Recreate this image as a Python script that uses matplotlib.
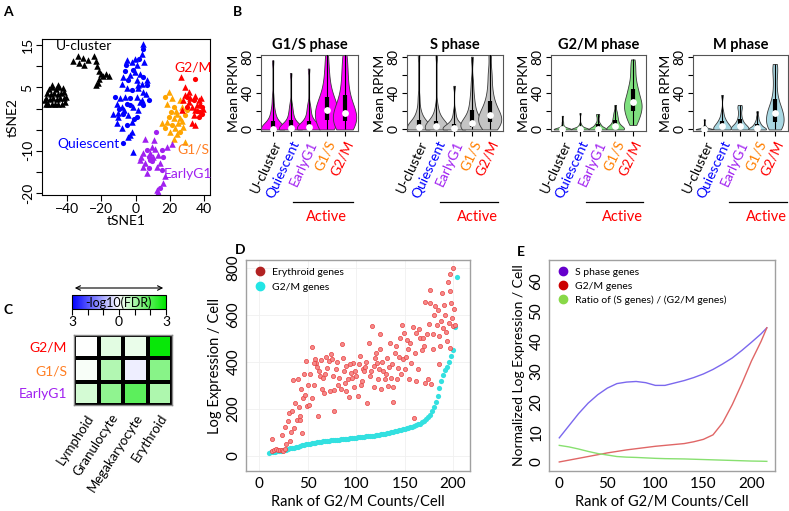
import matplotlib
matplotlib.use('Agg')
import matplotlib.pyplot as plt
import numpy as np
from matplotlib.colors import LinearSegmentedColormap, Normalize
from matplotlib.lines import Line2D
import matplotlib.colorbar as mcb
import matplotlib.transforms as mtrans

plt.rcParams['font.family'] = ['Lato', 'DejaVu Sans']

# ---------------- DATA ----------------
# Panel A: tSNE clusters
ucl_x = [-52.5, -51, -49, -47, -45, -43, -41, -52, -50, -48, -46, -44, -42, -40.5, -51.5, -49.5, -47.5,
         -45.5, -43.5, -41.5, -50.5, -48.5, -46.5, -44.5, -42.5, -49, -45, -53,
         -36.3, -33.8, -32.8, -30.9, -29.9, -28, -24, -23.1, -22.7, -21.1, -20.2, -22.1, -19.2, -17.2, -15.7, -21.1, -23.1]
ucl_y = [1.2, 1.0, 1.0, 1.2, 1.0, 1.2, 1.5, 2.5, 2.2, 2.5, 2.3, 2.5, 2.6, 2.8, 3.6, 3.4, 3.8,
         3.5, 3.7, 3.9, 4.7, 5.2, 4.6, 5.0, 4.8, 5.6, 5.5, 2.0,
         11.2, 12.4, 10.8, 12.0, 10.4, 11.6, 12.4, 11.2, 10.0, 8.8, 8.1, 6.1, 7.7, 8.1, 7.7, 6.9, 5.7]
qui_x = [4.2, 4.2, 3.7, -0.2, 2.3, -2.2, -5.1, -5.5, 0.7, 5.0, -1.6, -0.2, 2.7, 4.6, 6.6, -7.1, -4.1, 0.7,
         3.7, 6.6, -8.0, -5.1, -2.2, 1.7, 4.6, -11.9, -9.0, -6.1, -3.2, 0.7, 3.7, 7.6, -11.0, -8.0, -5.1,
         -1.2, 1.7, 4.6, -12.9, -10.0, -7.1, -4.1, -2.2, 0.7, -11.0, -8.0, -5.1, -2.2, -4.1, -7.4, -1.2, -3.5,
         -6.1, -3.0, 1.5, -9.5, -6.5, 2.5, -3.0, -10.5, 6.0, -1.0]
qui_y = [15.4, 14.2, 13.0, 11.8, 11.8, 11.1, 11.5, 10.3, 10.3, 11.1, 9.1, 8.7, 8.3, 7.5, 6.7, 7.5, 6.7, 6.7,
         5.9, 5.5, 5.9, 4.8, 4.4, 4.8, 4.0, 2.8, 2.4, 2.8, 2.4, 2.8, 2.0, 2.0, 1.2, 0.4, 1.2,
         0.4, -0.4, 0.8, -1.2, -1.9, -1.2, -1.5, -3.1, -1.9, -3.5, -4.7, -3.9, -5.5, -6.7, -8.1, -10.2, -6.3,
         9.0, 8.0, 5.5, 0.0, -0.3, 1.5, 0.8, -1.0, 3.5, -2.5]
g1s_x = [19.3, 17.3, 21.2, 18.3, 22.2, 26.1, 24.1, 19.3, 22.2, 26.1, 29.0, 15.4, 18.3, 21.2, 25.1, 28.0,
         17.3, 20.2, 23.2, 26.1, 29.0, 22.2, 30.0, 27.1, 23.5, 20.5, 24.5, 27.0]
g1s_y = [4.0, 2.8, 2.4, 1.2, 0.4, 2.0, -1.2, -1.9, -2.3, -2.3, -1.5, -3.5, -3.1, -3.9, -3.5, -4.3,
         -4.7, -5.5, -4.7, -5.5, -7.9, -7.1, -0.4, 0.4, -0.5, -0.8, -6.0, -3.0]
g2m_x = [26.7, 34.5, 29.0, 31.0, 30.0, 31.9, 28.0, 33.9, 36.8, 37.8, 38.8, 35.8, 32.9, 30.0, 27.1, 34.9,
         37.8, 39.7, 33.9, 36.8, 32.9, 34.9, 38.8, 31.0, 29.0, 36.0, 38.0, 35.0]
g2m_y = [7.5, 7.1, 5.1, 4.0, 2.8, 2.4, 2.0, 2.0, 2.0, 1.2, 0.4, 0.8, 0.4, 0.4, -0.4, -0.4,
         -0.8, 0.0, -1.5, -1.9, -3.5, -3.9, -1.2, 1.6, 3.2, -0.5, 2.5, 3.0]
eg1_x = [5.6, 12.0, 10.9, 9.5, 6.6, 8.5, 4.6, 7.6, 2.7, 5.6, 8.5, 10.5, 13.4, 15.4, 18.3, 21.2, 16.3,
         14.4, 12.4, 7.6, 4.6, 6.6, 15.4, 17.3, 16.3, 14.4, 13.4, 12.4, 9.5, 11.5, 3.5]
eg1_y = [-7.1, -5.5, -7.5, -9.0, -9.8, -10.6, -10.6, -11.4, -12.2, -13.0, -12.2, -11.4, -11.0, -9.8, -9.0,
         -8.4, -11.4, -13.0, -13.8, -14.2, -13.8, -15.3, -14.6, -16.1, -17.7, -18.9, -19.7, -19.3, -12.5, -9.5, -11.5]

# Panel B: violin samples (Mean RPKM)
groups = ['U-cluster', 'Quiescent', 'EarlyG1', 'G1/S', 'G2/M']
group_colors = ['black', '#0000FF', '#A020F0', '#FF7F00', '#FF0000']
phase_titles = ['G1/S phase', 'S phase', 'G2/M phase', 'M phase']
g1s_phase = [
    [0]*12 + [1, 2, 3, 5, 7, 9, 12, 15, 19, 24, 35, 76],
    [0]*10 + [1, 2, 3, 4, 5, 7, 9, 11, 14, 18, 22, 28, 62],
    [0]*9 + [1, 2, 3, 4, 5, 6, 8, 10, 13, 17, 22, 27, 67],
    [0, 1, 2, 4, 6, 8, 10, 12, 14, 16, 18, 19, 20, 22, 24, 26, 28, 30, 33, 36, 40, 45, 52, 60, 70, 83],
    [0, 1, 2, 3, 5, 7, 9, 11, 13, 15, 16, 17, 18, 20, 23, 26, 29, 33, 38, 44, 50, 58, 66, 75, 83],
]
s_phase = [
    [0]*8 + [1, 2, 3, 4, 5, 6, 8, 10, 13, 17, 22, 35, 82],
    [0]*7 + [1, 2, 3, 4, 5, 6, 7, 9, 11, 14, 18, 26, 82],
    [0]*9 + [1, 2, 3, 4, 5, 6, 8, 10, 14, 20, 48],
    [0, 0, 1, 1, 2, 3, 4, 5, 5, 6, 7, 9, 11, 14, 17, 21, 26, 32, 40, 52, 80],
    [0, 1, 2, 4, 6, 8, 10, 12, 13, 14, 15, 17, 19, 22, 25, 28, 32, 38, 45, 55, 65, 83],
]
g2m_phase = [
    [0]*10 + [0.5, 1, 1.5, 2, 3, 5, 8, 15],
    [0]*10 + [0.5, 1, 1, 2, 3, 4, 6, 18],
    [0]*8 + [0.5, 1, 2, 3, 4, 5, 6, 8, 12, 16, 17],
    [0]*6 + [0.5, 1, 2, 3, 4, 5, 6, 8, 10, 12, 14, 17, 20, 27],
    [5, 9, 12, 14, 17, 19, 21, 23, 25, 27, 28, 30, 32, 34, 37, 40, 43, 46, 50, 56, 63, 70, 77],
]
m_phase = [
    [0]*10 + [0.5, 1, 2, 3, 4, 11],
    [0]*6 + [1, 2, 3, 4, 5, 6, 7, 8, 10, 12, 15, 20, 38],
    [0]*6 + [1, 2, 3, 4, 5, 6, 8, 10, 13, 17, 22, 25, 27],
    [0]*7 + [1, 2, 3, 4, 5, 6, 8, 10, 14, 20],
    [0, 1, 2, 4, 6, 8, 10, 12, 14, 16, 18, 20, 22, 25, 28, 33, 40, 50, 60, 68, 72],
]
violin_colors = ['#FF00FF', '#C4C4C4', '#7FE07F', '#A9D8E3']

# Panel C: heatmap of signed -log10(FDR)
heat_rows = ['G2/M', 'G1/S', 'EarlyG1']
heat_row_colors = ['#FF0000', '#FF7F24', '#A020F0']
heat_cols = ['Lymphoid', 'Granulocyte', 'Megakaryocyte', 'Erythroid']
heat_vals = [[0.0, 0.35, 0.25, 2.9],
             [0.08, 0.9, -0.2, 1.4],
             [0.5, 1.3, 1.9, 0.95]]

# Panel D: scatter vs rank
cyan_rank = list(range(10, 206, 2))
cyan_vals = [14, 15, 16, 17, 19, 20, 22, 24, 25, 27, 30, 32, 34, 36, 38, 40, 42, 45, 47, 49,
             51, 53, 55, 56, 57, 58, 59, 61, 62, 63, 64, 65, 66, 67, 68, 69, 70, 71, 72, 73,
             74, 74, 75, 76, 77, 78, 79, 80, 81, 82, 83, 84, 85, 86, 87, 88, 89, 91, 92, 93,
             95, 97, 99, 101, 103, 105, 107, 109, 111, 113, 115, 117, 120, 122, 125, 128, 131, 134, 138, 143,
             150, 158, 165, 175, 190, 208, 228, 255, 290, 320, 345, 365, 378, 400, 425, 450, 550, 760]
red_rank = [13, 13, 15, 17, 19, 21, 23, 25, 27, 23, 27, 28, 30, 32, 31, 34, 35, 37, 39, 40, 42, 42, 43, 44,
            45, 46, 47, 48, 49, 51, 52, 54, 54, 58, 59, 60, 61, 63, 64, 65, 66, 67, 70, 72, 73, 74, 75, 77,
            77, 79, 80, 84, 85, 86, 87, 89, 90, 92, 93, 95, 97, 98, 99, 102, 104, 106, 107, 109, 111, 113,
            114, 116, 118, 118, 120, 121, 123, 125, 125, 126, 128, 130, 132, 133, 135, 137, 138, 138, 140,
            142, 143, 145, 147, 148, 149, 150, 152, 154, 155, 157, 159, 160, 162, 162, 164, 166, 168, 169,
            171, 173, 174, 176, 177, 179, 179, 181, 183, 185, 186, 187, 188, 190, 191, 193, 194, 195, 196,
            197, 199, 200, 201, 202, 176, 189, 197, 171, 197, 200,
            56, 62, 68, 76, 82, 88, 94, 100, 105, 110, 115, 119, 124, 131, 136, 141, 146, 151, 156, 161,
            165, 170, 175, 180, 184, 192, 198, 41, 36, 33, 50, 57, 69, 81, 96, 103, 108, 127, 134, 144]
red_vals = [74, 22, 26, 28, 24, 27, 25, 22, 30, 90, 125, 50, 150, 64, 184, 190, 323, 227, 153, 329, 154, 170,
            286, 99, 248, 347, 261, 406, 211, 218, 350, 247, 464, 414, 397, 380, 170, 340, 408, 284, 333, 267,
            373, 403, 277, 432, 411, 191, 279, 369, 400, 286, 478, 419, 362, 381, 277, 327, 253, 355, 394, 295,
            362, 256, 426, 319, 369, 379, 226, 482, 340, 553, 383, 294, 440, 397, 326, 454, 518, 284, 362, 326,
            418, 299, 482, 393, 229, 294, 440, 329, 376, 500, 556, 411, 525, 369, 492, 454, 326, 394, 550, 163,
            525, 319, 369, 503, 451, 500, 309, 518, 326, 650, 305, 454, 521, 638, 556, 390, 510, 468, 574, 543,
            641, 528, 489, 742, 568, 461, 589, 553, 627, 556, 705, 695, 702, 655, 773, 800,
            395, 360, 350, 340, 330, 310, 390, 340, 300, 400, 360, 415, 372, 350, 330, 470, 350, 420, 480, 440,
            540, 470, 560, 600, 620, 600, 650, 210, 120, 100, 300, 300, 420, 300, 330, 390, 360, 400, 380, 420]

# Panel E: smoothed curves vs rank
e_rank = [0, 10, 20, 30, 40, 50, 60, 70, 80, 90, 100, 110, 120, 130, 140, 150, 160, 170, 180, 190, 200, 210, 216]
e_s_genes = [8, 12, 16, 19.5, 22.3, 24.5, 26, 26.5, 26.7, 26.3, 25.4, 25.4, 26.2, 27, 28, 29.2, 30.7, 32.5,
             34.5, 37, 39.7, 42.5, 44.5]
e_g2m_genes = [0, 0.6, 1.2, 1.8, 2.4, 3.0, 3.5, 4.0, 4.4, 4.8, 5.2, 5.5, 5.8, 6.1, 6.7, 7.5, 9.0, 13, 19,
               26, 33.5, 40, 44.5]
e_ratio = [5.5, 5.0, 4.3, 3.5, 2.8, 2.3, 1.8, 1.6, 1.5, 1.35, 1.2, 1.1, 1.05, 1.0, 0.9, 0.8, 0.7, 0.6, 0.5,
           0.4, 0.3, 0.25, 0.2]

# ---------------- FIGURE ----------------
W, H = 789, 511
fig = plt.figure(figsize=(W / 100, H / 100), dpi=100)


def rect(l, t, r, b):
    return [l / W, 1 - b / H, (r - l) / W, (b - t) / H]


def fp(x, y):
    return (x / W, 1 - y / H)


for lab, (x, y) in zip('ABCDE', [(8, 12), (237, 12), (8, 310), (240, 250), (521, 252)]):
    fig.text(*fp(x, y), lab, fontsize=10, fontweight='bold', ha='center', va='center')

# ---- Panel A ----
axA = fig.add_axes(rect(42, 39, 210, 195))
clusters = [(ucl_x, ucl_y, 'black'), (qui_x, qui_y, '#0000FF'), (g1s_x, g1s_y, '#FFA500'),
            (g2m_x, g2m_y, '#FF0000'), (eg1_x, eg1_y, '#A020F0')]
for xs, ys, c in clusters:
    xs = np.array(xs); ys = np.array(ys)
    idx = np.arange(len(xs))
    tri = idx % 3 != 1 if c != 'black' else idx >= 0
    axA.scatter(xs[tri], ys[tri], marker='^', s=22, color=c, linewidths=0)
    axA.scatter(xs[~tri], ys[~tri], marker='o', s=14, color=c, linewidths=0)
axA.set_xlim(-54.6, 43.5)
axA.set_ylim(-20.5, 16.5)
axA.set_xticks([-40, -20, 0, 20, 40])
axA.set_yticks([-20, -15, -10, -5, 0, 5, 10, 15])
axA.set_yticklabels(['-20', '', '-10', '', '', '5', '', '15'])
axA.tick_params(labelsize=10, length=4, width=0.8, direction='out', pad=2)
for t in axA.get_yticklabels():
    t.set_rotation(90); t.set_va('center')
for s in axA.spines.values():
    s.set_linewidth(0.8)
axA.set_xlabel('tSNE1', fontsize=10, labelpad=0)
axA.set_ylabel('tSNE2', fontsize=10, labelpad=2)
for txt, x, y, c in [('U-cluster', -30.1, 14.8, 'black'), ('G2/M', 33.7, 9.8, '#FF0000'),
                     ('Quiescent', -27.7, -8.4, '#0000FF'), ('G1/S', 34.0, -9.8, '#FF7F24'),
                     ('EarlyG1', 30.8, -15.6, '#A020F0')]:
    axA.text(x, y, txt, color=c, fontsize=10, ha='center', va='center')

# ---- Panel B ----
b_rects = [(261, 55, 358, 131), (407, 55, 503, 131), (551, 55, 646, 131), (693, 55, 788, 131)]
active_pos = [(2.15, 5.45, 4.0), (2.2, 5.45, 4.3), (2.35, 5.6, 4.4), (2.4, 5.7, 4.5)]
b_widths = [1.3, 1.3, 1.0, 1.0]
for k, data in enumerate([g1s_phase, s_phase, g2m_phase, m_phase]):
    ax = fig.add_axes(rect(*b_rects[k]))
    for i, d in enumerate(data, start=1):
        bw = 0.5 if (k == 0 and i >= 4) else 0.35
        parts = ax.violinplot([d], positions=[i], widths=b_widths[k], showextrema=False, bw_method=bw)
        for b in parts['bodies']:
            b.set_facecolor(violin_colors[k]); b.set_edgecolor('#3a3a3a')
            b.set_linewidth(0.6); b.set_alpha(1)
        q1, med, q3 = np.percentile(d, [25, 50, 75])
        ax.vlines(i, min(d), max(d), color='black', lw=0.8, zorder=3)
        ax.vlines(i, q1, q3, color='black', lw=3, zorder=3)
        ax.scatter([i], [med], s=24, color='white', zorder=5, linewidths=0)
    ax.set_xlim(0.35, 5.75)
    ax.set_ylim(-1.7, 81.9)
    ax.set_yticks([0, 20, 40, 60, 80])
    ax.set_yticklabels(['0', '', '40', '', '80'])
    ax.set_xticks(range(1, 6))
    ax.set_xticklabels(groups, rotation=65, ha='right', rotation_mode='anchor', fontsize=10.5)
    for t, c in zip(ax.get_xticklabels(), group_colors):
        t.set_color(c)
    ax.tick_params(labelsize=10, length=3.5, width=0.8, pad=2)
    for t in ax.get_yticklabels():
        t.set_rotation(90); t.set_va('center')
    for s in ax.spines.values():
        s.set_linewidth(0.8); s.set_color('#555555')
    ax.set_ylabel('Mean RPKM', fontsize=10, labelpad=1)
    ax.set_title(phase_titles[k], fontsize=10.5, fontweight='bold', pad=4)
    trans = mtrans.blended_transform_factory(ax.transData, ax.transAxes)
    x0, x1, xa = active_pos[k]
    ax.plot([x0, x1], [-0.934, -0.934], color='black', lw=0.9, transform=trans, clip_on=False)
    ax.text(xa, -1.13, 'Active', color='#FF0000', fontsize=10.5, ha='center', va='center',
            transform=trans)

# ---- Panel C ----
cmap = LinearSegmentedColormap.from_list('bwg', ['#0000FF', '#FFFFFF', '#00E600'])
norm = Normalize(vmin=-3, vmax=3)
axC = fig.add_axes(rect(74, 335, 172, 405))
axC.pcolormesh(np.array(heat_vals), cmap=cmap, norm=norm, edgecolors='black', linewidth=1.5)
axC.set_xlim(0, 4); axC.set_ylim(3, 0)
axC.set_xticks(np.arange(4) + 0.5)
axC.set_xticklabels(heat_cols, rotation=57, ha='right', rotation_mode='anchor', fontsize=9.5)
axC.set_yticks(np.arange(3) + 0.5)
axC.set_yticklabels(heat_rows, fontsize=10)
for t, c in zip(axC.get_yticklabels(), heat_row_colors):
    t.set_color(c)
axC.tick_params(length=0, pad=5)
for s in axC.spines.values():
    s.set_color('#888888'); s.set_linewidth(1)

cax = fig.add_axes(rect(72, 295, 166, 309))
cb = mcb.ColorbarBase(cax, cmap=cmap, norm=norm, orientation='horizontal')
cb.set_ticks([-3, -2, -1, 0, 1, 2, 3])
cb.set_ticklabels(['3', '', '', '0', '', '', '3'])
cax.tick_params(labelsize=10, length=4, width=0.8, pad=1)
cb.outline.set_linewidth(0.8)
cax.text(0.5, 0.45, '-log10(FDR)', transform=cax.transAxes, ha='center', va='center', fontsize=9)
fig.add_artist(matplotlib.patches.FancyArrowPatch(fp(72, 288), fp(166, 288), arrowstyle='<->',
                                                  mutation_scale=8, lw=0.8, color='black',
                                                  transform=fig.transFigure))

# ---- Panel D ----
axD = fig.add_axes(rect(246, 260, 470, 471))
axD.grid(True, color='#F0F0F0', lw=0.6)
axD.set_axisbelow(True)
axD.scatter(cyan_rank, cyan_vals, s=14, color='#33E0E0', linewidths=0, zorder=2)
axD.scatter(red_rank, red_vals, s=9, facecolor='#F58A8A', edgecolor='#E84040', linewidths=0.5, zorder=3)
axD.set_xlim(-13.7, 217.5)
axD.set_ylim(-64, 834)
axD.set_xticks([0, 50, 100, 150, 200])
axD.set_yticks([0, 200, 400, 600, 800])
axD.tick_params(length=0, labelsize=11, pad=4)
for t in axD.get_yticklabels():
    t.set_rotation(90); t.set_va('center')
for s in axD.spines.values():
    s.set_color('#A0A0A0'); s.set_linewidth(1)
axD.set_xlabel('Rank of G2/M Counts/Cell', fontsize=10.5, labelpad=3)
axD.set_ylabel('Log Expression / Cell', fontsize=10.5, labelpad=3)
hD = [Line2D([], [], ls='', marker='o', markersize=6, color='#B22222'),
      Line2D([], [], ls='', marker='o', markersize=6, color='#22E5E5')]
axD.legend(hD, ['Erythroid genes', 'G2/M genes'], loc='upper left', frameon=False, fontsize=7.5,
           handletextpad=0.6, labelspacing=0.55, borderaxespad=0.3, handlelength=1.2)

# ---- Panel E ----
axE = fig.add_axes(rect(549, 260, 775, 471))
axE.plot(e_rank, e_s_genes, color='#7B68EE', lw=1)
axE.plot(e_rank, e_g2m_genes, color='#E06666', lw=1)
axE.plot(e_rank, e_ratio, color='#88E070', lw=1)
axE.set_xlim(-10.7, 224.5)
axE.set_ylim(-3, 67)
axE.set_xticks([0, 50, 100, 150, 200])
axE.set_yticks([0, 10, 20, 30, 40, 50, 60])
axE.tick_params(length=0, labelsize=11, pad=4)
for t in axE.get_yticklabels():
    t.set_rotation(90); t.set_va('center')
for s in axE.spines.values():
    s.set_color('#A0A0A0'); s.set_linewidth(1)
axE.set_xlabel('Rank of G2/M Counts/Cell', fontsize=10.5, labelpad=3)
axE.set_ylabel('Normalized Log Expression / Cell', fontsize=10, labelpad=3)
hE = [Line2D([], [], ls='', marker='o', markersize=6, color='#6600CC'),
      Line2D([], [], ls='', marker='o', markersize=6, color='#CC0000'),
      Line2D([], [], ls='', marker='o', markersize=6, color='#88D848')]
axE.legend(hE, ['S phase genes', 'G2/M genes', 'Ratio of (S genes) / (G2/M genes)'], loc='upper left',
           frameon=False, fontsize=7.5, handletextpad=0.6, labelspacing=0.45, borderaxespad=0.3,
           handlelength=1.2)

fig.savefig('out.png', dpi=100)
